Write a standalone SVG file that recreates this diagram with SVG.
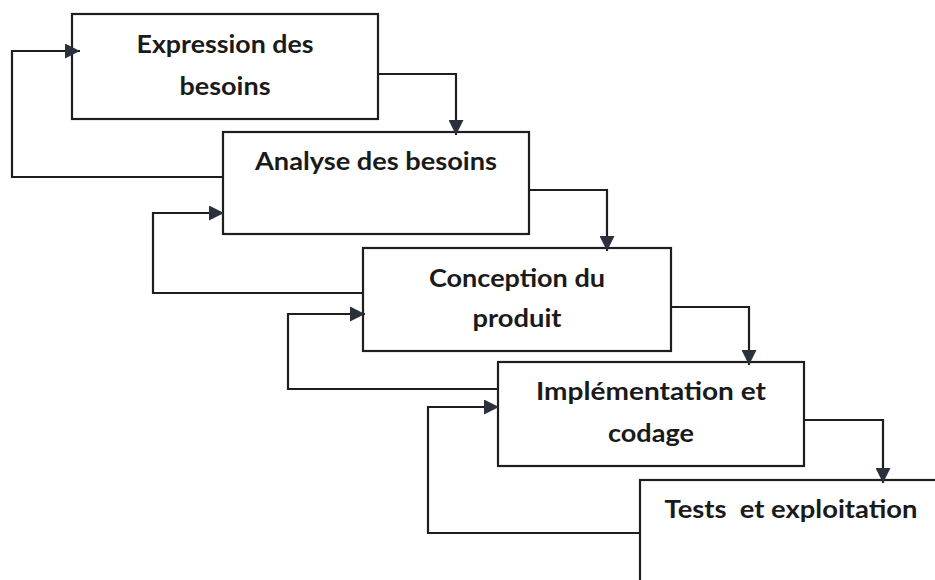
<svg xmlns="http://www.w3.org/2000/svg" width="935" height="580" viewBox="0 0 935 580">
<defs>
<marker id="ah" markerUnits="userSpaceOnUse" markerWidth="15" markerHeight="15" refX="15" refY="7.5" orient="auto">
<path d="M0,0 L15,7.5 L0,15 z" fill="#2a313c"/>
</marker>
<style>
.box{fill:#fff;stroke:#1e1e1e;stroke-width:2.2}
.c{fill:none;stroke:#1e1e1e;stroke-width:2.2;marker-end:url(#ah)}
text{font-family:Lato,"Liberation Sans",Arial,sans-serif;font-weight:bold;font-size:24px;fill:#1a1a1a;text-anchor:middle}
</style>
</defs>
<rect width="935" height="580" fill="#fff"/>
<g id="n1">
<rect class="box" x="72" y="14" width="306" height="105"/>
<text x="225" y="53" textLength="177" lengthAdjust="spacingAndGlyphs">Expression des</text>
<text x="225" y="95" textLength="91" lengthAdjust="spacingAndGlyphs">besoins</text>
</g>
<g id="n2">
<rect class="box" x="223" y="132" width="306" height="102"/>
<text x="376" y="170" textLength="242" lengthAdjust="spacingAndGlyphs">Analyse des besoins</text>
</g>
<g id="n3">
<rect class="box" x="363" y="248" width="308" height="103"/>
<text x="517" y="287" textLength="176" lengthAdjust="spacingAndGlyphs">Conception du</text>
<text x="517" y="327" textLength="89" lengthAdjust="spacingAndGlyphs">produit</text>
</g>
<g id="n4">
<rect class="box" x="498" y="362" width="306" height="104"/>
<text x="651" y="400" textLength="230" lengthAdjust="spacingAndGlyphs">Implémentation et</text>
<text x="651" y="442" textLength="86" lengthAdjust="spacingAndGlyphs">codage</text>
</g>
<g id="n5">
<rect class="box" x="640" y="480" width="310" height="110"/>
<text x="791" y="518" textLength="253" lengthAdjust="spacingAndGlyphs" xml:space="preserve">Tests  et exploitation</text>
</g>
<g id="connectors">
<polyline class="c" points="378,74 456,74 456,135"/>
<polyline class="c" points="529,190 607,190 607,251"/>
<polyline class="c" points="671,307 749,307 749,365"/>
<polyline class="c" points="804,420 883,420 883,483"/>
<polyline class="c" points="223,177 12,177 12,51 80,51"/>
<polyline class="c" points="363,293 153,293 153,213 224,213"/>
<polyline class="c" points="498,389 288,389 288,314 365,314"/>
<polyline class="c" points="640,533 428,533 428,407 499,407"/>
</g>
</svg>
